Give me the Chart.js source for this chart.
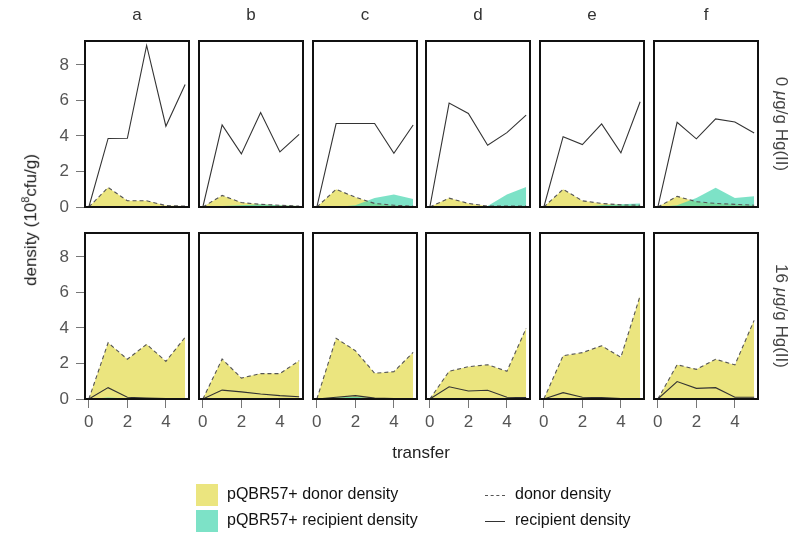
<!DOCTYPE html>
<html>
<head>
<meta charset="utf-8">
<script src="https://cdn.jsdelivr.net/npm/chart.js@4.4.0/dist/chart.umd.min.js"></script>
<style>
  body { margin: 0; background: #fff; }
  #wrap { position: relative; width: 800px; height: 542px; font-family: "Liberation Sans", Arial, sans-serif; }
  #wrap canvas { position: absolute; }
  .txt { position: absolute; white-space: nowrap; transform: translate(-50%, -50%); color: #333; font-size: 16px; }
  .rot { transform: translate(-50%, -50%) rotate(90deg); }
  .rotl { transform: translate(-50%, -50%) rotate(-90deg); }
  .leg { position: absolute; font-size: 16px; color: #111; white-space: nowrap; }
  .box { position: absolute; width: 22px; height: 22px; }
</style>
</head>
<body>
<div id="wrap"></div>
<script>
// data, one inner list per panel a..f
const panelNames = ['a', 'b', 'c', 'd', 'e', 'f'];
const transfers = [0, 1, 2, 3, 4, 5];
const xTicks = [0, 2, 4];
const yTicks = [0, 2, 4, 6, 8];
const rowLabels = ['0 <i>μ</i>g/g Hg(II)', '16 <i>μ</i>g/g Hg(II)'];

// 0 ug/g Hg(II)
const recipient0 = [
  [0, 3.86, 3.87, 9.1, 4.55, 6.9],
  [0, 4.62, 2.99, 5.32, 3.1, 4.09],
  [0, 4.7, 4.7, 4.7, 3.03, 4.62],
  [0, 5.85, 5.27, 3.48, 4.19, 5.17],
  [0, 3.96, 3.52, 4.68, 3.05, 5.93],
  [0, 4.77, 3.84, 4.96, 4.79, 4.17]
];
const donor0 = [
  [0, 1.1, 0.35, 0.35, 0.08, 0.05],
  [0, 0.65, 0.25, 0.15, 0.1, 0.05],
  [0, 1.0, 0.55, 0.2, 0.1, 0.05],
  [0, 0.5, 0.2, 0.05, 0.05, 0.05],
  [0, 1.0, 0.35, 0.2, 0.12, 0.1],
  [0, 0.6, 0.3, 0.2, 0.15, 0.1]
];
const donorPlasmid0 = [
  [0, 1.1, 0.35, 0.35, 0.08, 0.05],
  [0, 0.65, 0.25, 0.15, 0.1, 0.05],
  [0, 1.0, 0.55, 0.2, 0.1, 0.05],
  [0, 0.5, 0.2, 0.05, 0.05, 0.05],
  [0, 1.0, 0.35, 0.2, 0.12, 0.1],
  [0, 0.6, 0.3, 0.2, 0.15, 0.1]
];
const recipPlasmid0 = [
  [0, 0.05, 0.05, 0.05, 0.02, 0.02],
  [0, 0.05, 0.1, 0.15, 0.1, 0.05],
  [0, 0, 0.1, 0.5, 0.7, 0.45],
  [0, 0, 0, 0.05, 0.7, 1.12],
  [0, 0, 0.02, 0.1, 0.15, 0.2],
  [0, 0.1, 0.5, 1.08, 0.5, 0.6]
];

// 16 ug/g Hg(II)
const recipient16 = [
  [0, 0.64, 0.1, 0.05, 0.02, 0.02],
  [0, 0.5, 0.4, 0.28, 0.19, 0.13],
  [0, 0.1, 0.19, 0.05, 0.03, 0.03],
  [0, 0.69, 0.45, 0.49, 0.1, 0.08],
  [0, 0.36, 0.1, 0.08, 0.02, 0.02],
  [0, 0.98, 0.6, 0.64, 0.1, 0.1]
];
const donor16 = [
  [0, 3.17, 2.24, 3.08, 2.12, 3.48],
  [0, 2.25, 1.18, 1.43, 1.43, 2.16],
  [0, 3.42, 2.72, 1.45, 1.54, 2.63],
  [0, 1.56, 1.82, 1.93, 1.56, 3.98],
  [0, 2.44, 2.61, 3.0, 2.35, 5.82],
  [0, 1.93, 1.67, 2.24, 1.92, 4.43]
];
const donorPlasmid16 = [
  [0, 3.17, 2.24, 3.08, 2.12, 3.48],
  [0, 2.25, 1.18, 1.43, 1.43, 2.16],
  [0, 3.42, 2.72, 1.45, 1.54, 2.63],
  [0, 1.56, 1.82, 1.93, 1.56, 3.98],
  [0, 2.44, 2.61, 3.0, 2.35, 5.82],
  [0, 1.93, 1.67, 2.24, 1.92, 4.43]
];
const recipPlasmid16 = [
  [0, 0.08, 0.03, 0.01, 0.01, 0.01],
  [0, 0.02, 0.02, 0.01, 0.01, 0.01],
  [0, 0.08, 0.12, 0.03, 0.01, 0.01],
  [0, 0.02, 0.02, 0.01, 0.01, 0.01],
  [0, 0.02, 0.02, 0.01, 0.01, 0.01],
  [0, 0.04, 0.03, 0.03, 0.01, 0.01]
];

const rows = [
  { recipient: recipient0, donor: donor0, dp: donorPlasmid0, rp: recipPlasmid0 },
  { recipient: recipient16, donor: donor16, dp: donorPlasmid16, rp: recipPlasmid16 }
];

// layout
const colLeft = [85, 199, 313, 426, 540, 654];
const rowTop = [41, 233];
const panelW = 104, panelH = 166;
const M = 24, yAxisW = 45, xAxisH = 40;
const yellow = '#ebe57f';
const teal = 'rgba(64, 212, 172, 0.68)';

Chart.defaults.font.family = '"Liberation Sans", Arial, sans-serif';

const wrap = document.getElementById('wrap');

const boxPlugin = {
  id: 'box',
  afterDraw(chart) {
    const a = chart.chartArea;
    const c = chart.ctx;
    c.save();
    c.strokeStyle = '#111';
    c.lineWidth = 2;
    c.strokeRect(a.left, a.top, a.right - a.left, a.bottom - a.top);
    c.restore();
  }
};

function pts(vals) {
  return transfers.map((x, i) => ({ x: x, y: vals[i] }));
}

for (let r = 0; r < 2; r++) {
  for (let c = 0; c < 6; c++) {
    const showY = c === 0, showX = r === 1;
    const cv = document.createElement('canvas');
    const w = panelW + 2 * M + (showY ? yAxisW : 0);
    const h = panelH + 2 * M + (showX ? xAxisH : 0);
    cv.width = w; cv.height = h;
    cv.style.width = w + 'px'; cv.style.height = h + 'px';
    cv.style.left = (colLeft[c] - M - (showY ? yAxisW : 0)) + 'px';
    cv.style.top = (rowTop[r] - M) + 'px';
    wrap.appendChild(cv);

    const d = rows[r];
    new Chart(cv.getContext('2d'), {
      type: 'line',
      data: {
        datasets: [
          { label: 'pQBR57+ donor density', data: pts(d.dp[c]), order: 4, fill: 'origin', backgroundColor: yellow, borderWidth: 0, pointRadius: 0 },
          { label: 'pQBR57+ recipient density', data: pts(d.rp[c]), order: 3, fill: 'origin', backgroundColor: teal, borderWidth: 0, pointRadius: 0 },
          { label: 'donor density', data: pts(d.donor[c]), order: 2, fill: false, borderColor: '#555', borderWidth: 1.1, borderDash: [4, 3], pointRadius: 0 },
          { label: 'recipient density', data: pts(d.recipient[c]), order: 1, fill: false, borderColor: '#333', borderWidth: 1.1, pointRadius: 0 }
        ]
      },
      options: {
        responsive: false,
        animation: false,
        devicePixelRatio: 1,
        layout: { padding: M },
        plugins: {
          legend: { display: false },
          tooltip: { enabled: false }
        },
        scales: {
          x: {
            type: 'linear',
            min: -0.2,
            max: 5.2,
            display: showX,
            afterBuildTicks: s => { s.ticks = xTicks.map(v => ({ value: v })); },
            afterFit: s => { if (showX) s.height = xAxisH; },
            border: { display: false },
            grid: { drawOnChartArea: false, drawTicks: true, tickLength: 9, color: '#777' },
            ticks: { color: '#555', font: { size: 17 }, padding: 4, maxRotation: 0 }
          },
          y: {
            min: 0,
            max: 9.35,
            display: showY,
            afterBuildTicks: s => { s.ticks = yTicks.map(v => ({ value: v })); },
            afterFit: s => { if (showY) s.width = yAxisW; },
            border: { display: false },
            grid: { drawOnChartArea: false, drawTicks: true, tickLength: 9, color: '#777' },
            ticks: { color: '#555', font: { size: 17 }, padding: 7 }
          }
        }
      },
      plugins: [boxPlugin]
    });
  }
}

function addText(html, x, y, cls, extra) {
  const el = document.createElement('div');
  el.className = 'txt' + (cls ? ' ' + cls : '');
  el.innerHTML = html;
  el.style.left = x + 'px';
  el.style.top = y + 'px';
  if (extra) Object.assign(el.style, extra);
  wrap.appendChild(el);
}

panelNames.forEach((n, c) => addText(n, colLeft[c] + panelW / 2, 15, '', { fontSize: '17px' }));
rowLabels.forEach((t, r) => addText(t, 781, rowTop[r] + panelH / 2, 'rot', { fontSize: '17px', color: '#444' }));
addText('density (10<sup style="font-size:11px">8</sup>cfu/g)', 30, 220, 'rotl', { fontSize: '17px', color: '#222' });
addText('transfer', 421, 453, '', { fontSize: '17px', color: '#222' });

// legend
function addLeg(html, x, y) {
  const el = document.createElement('div');
  el.className = 'leg';
  el.innerHTML = html;
  el.style.left = x + 'px';
  el.style.top = (y - 10) + 'px';
  wrap.appendChild(el);
}
function addBox(color, x, y) {
  const el = document.createElement('div');
  el.className = 'box';
  el.style.background = color;
  el.style.left = x + 'px';
  el.style.top = y + 'px';
  wrap.appendChild(el);
}
function addLine(style, x, y) {
  const el = document.createElement('div');
  el.style.position = 'absolute';
  el.style.left = x + 'px';
  el.style.top = y + 'px';
  el.style.width = '20px';
  el.style.borderTop = style;
  wrap.appendChild(el);
}
addBox(yellow, 196, 484);
addBox('rgb(125, 226, 199)', 196, 510);
addLeg('pQBR57+ donor density', 227, 495);
addLeg('pQBR57+ recipient density', 227, 521);
addLine('1px dashed #555', 485, 495);
addLine('1px solid #333', 485, 521);
addLeg('donor density', 515, 495);
addLeg('recipient density', 515, 521);
</script>
</body>
</html>
